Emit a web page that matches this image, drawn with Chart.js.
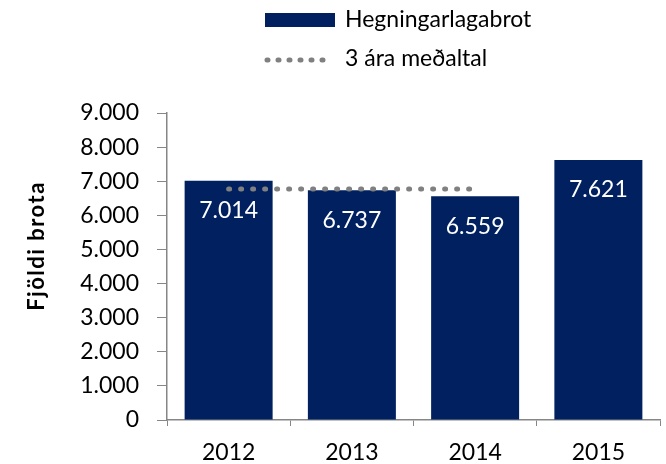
<!DOCTYPE html>
<html>
<head>
<meta charset="utf-8">
<script src="https://cdn.jsdelivr.net/npm/chart.js@4/dist/chart.umd.min.js"></script>
<style>
  html, body { margin: 0; padding: 0; background: #fff; }
  #wrap { width: 666px; height: 464px; position: relative; }
</style>
</head>
<body>
<div id="wrap"><canvas id="myChart" width="666" height="464"></canvas></div>
<script>
// chart data
const years = ["2012", "2013", "2014", "2015"];
const offences = [7014, 6737, 6559, 7621];
const threeYearAvg = [6770, 6770, 6770, null];
const yTicks = [0, 1000, 2000, 3000, 4000, 5000, 6000, 7000, 8000, 9000];
const yTitle = "Fjöldi brota";

const navy = "#002060";
const grey = "#808080";
const axisGrey = "#868686";
const FONT = "Lato, 'Open Sans', sans-serif";

// 7014 -> "7.014"
const fmt = (v) => String(Math.round(v)).replace(/\B(?=(\d{3})+(?!\d))/g, ".");

// white value labels inside the top of each bar
const barLabels = {
  id: "barLabels",
  afterDatasetsDraw(chart) {
    const ctx = chart.ctx;
    const meta = chart.getDatasetMeta(0);
    ctx.save();
    ctx.fillStyle = "#fff";
    ctx.font = "23px " + FONT;
    ctx.textAlign = "center";
    ctx.textBaseline = "middle";
    meta.data.forEach((bar, i) => {
      ctx.fillText(fmt(offences[i]), bar.x, bar.y + 30);
    });
    ctx.restore();
  },
};

// legend stacked in two rows above the plot, plus the y title
const extras = {
  id: "extras",
  afterDraw(chart) {
    const ctx = chart.ctx;
    const sets = chart.data.datasets;
    ctx.save();
    ctx.font = "23px " + FONT;
    ctx.textBaseline = "middle";
    // bar item
    ctx.fillStyle = navy;
    ctx.fillRect(265, 13, 70, 14);
    ctx.fillStyle = "#000";
    ctx.fillText(sets[0].label, 345, 20);
    // line item
    ctx.strokeStyle = grey;
    ctx.lineWidth = 5;
    ctx.lineCap = "round";
    ctx.setLineDash([1, 10]);
    ctx.beginPath();
    ctx.moveTo(267, 60);
    ctx.lineTo(333, 60);
    ctx.stroke();
    ctx.setLineDash([]);
    ctx.fillText(sets[1].label, 345, 59);

    // y axis title, sits a little above the plot middle
    ctx.translate(37, 246);
    ctx.rotate(-Math.PI / 2);
    ctx.font = "bold 22px " + FONT;
    ctx.letterSpacing = "1.5px";
    ctx.textAlign = "center";
    ctx.fillText(yTitle, 0, 0);
    ctx.restore();
  },
};

const data = {
  labels: years,
  datasets: [
    {
      type: "bar",
      label: "Hegningarlagabrot",
      data: offences,
      backgroundColor: navy,
      categoryPercentage: 1,
      barPercentage: 0.714,
      order: 2,
    },
    {
      type: "line",
      label: "3 ára meðaltal",
      data: threeYearAvg,
      borderColor: grey,
      borderWidth: 5,
      borderDash: [1, 11],
      borderCapStyle: "round",
      pointRadius: 0,
      fill: false,
      order: 1,
    },
  ],
};

const config = {
  type: "bar",
  data: data,
  plugins: [barLabels, extras],
  options: {
    responsive: false,
    animation: false,
    layout: { padding: { top: 113, right: 6, left: 0, bottom: 0 } },
    plugins: {
      legend: { display: false },
      tooltip: { enabled: false },
    },
    scales: {
      x: {
        type: "category",
        afterFit: (s) => { s.height = 44; },
        grid: {
          offset: true,
          drawOnChartArea: false,
          tickLength: 6,
          color: axisGrey,
        },
        border: { color: axisGrey, width: 1.5 },
        ticks: {
          color: "#000",
          padding: 13,
          font: { family: FONT, size: 23 },
        },
      },
      y: {
        min: 0,
        max: 9000,
        afterFit: (s) => { s.width = 167; },
        afterBuildTicks: (s) => { s.ticks = yTicks.map((v) => ({ value: v })); },
        grid: {
          drawOnChartArea: false,
          tickLength: 10,
          color: axisGrey,
        },
        border: { color: axisGrey, width: 1.5 },
        ticks: {
          color: "#000",
          padding: 18,
          font: { family: FONT, size: 23 },
          callback: (v) => fmt(v),
        },
      },
    },
  },
};

const ctx = document.getElementById("myChart").getContext("2d");
const myChart = new Chart(ctx, config);
</script>
</body>
</html>
